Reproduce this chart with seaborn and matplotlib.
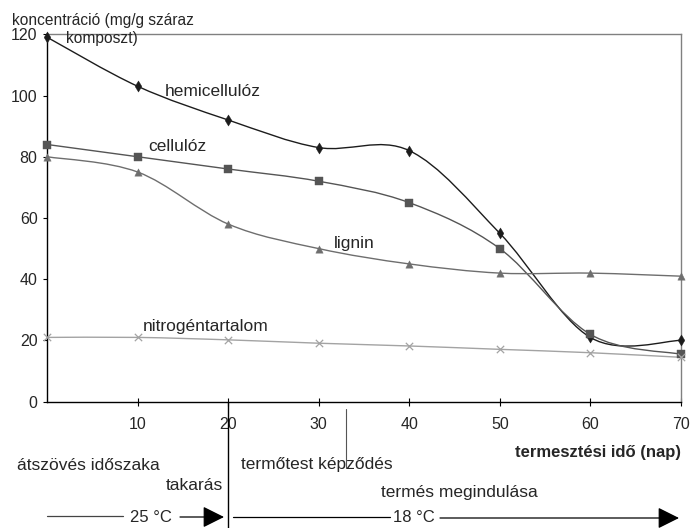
import numpy as np
import pandas as pd
import matplotlib.pyplot as plt
import seaborn as sns
from matplotlib.path import Path
from matplotlib.patches import PathPatch

# Data (mg/g száraz komposzt)
days = [0, 10, 20, 30, 40, 50, 60, 70]
hemicellulose = [119, 103, 92, 83, 82, 55, 21, 20]
cellulose = [84, 80, 76, 72, 65, 50, 22, 15.5]
lignin = [80, 75, 58, 50, 45, 42, 42, 41]
nitrogen = [21, 21, 20.2, 19.1, 18.2, 17.1, 16, 14.5]

series_names = ['hemicellulóz', 'cellulóz', 'lignin', 'nitrogéntartalom']
series_values = [hemicellulose, cellulose, lignin, nitrogen]
colors = {'hemicellulóz': '#1c1c1c', 'cellulóz': '#555555',
          'lignin': '#6e6e6e', 'nitrogéntartalom': '#a3a3a3'}
markers = {'hemicellulóz': 'd', 'cellulóz': 's',
           'lignin': '^', 'nitrogéntartalom': 'x'}

W, H = 691, 528


def fx(px):
    return px / W


def fy(py):
    return 1 - py / H


def smooth_path(x, y):
    """Excel-like smoothed line (Catmull-Rom converted to cubic Bezier)"""
    pts = np.column_stack([x, y]).astype(float)
    verts = [pts[0]]
    codes = [Path.MOVETO]
    n = len(pts)
    for i in range(n - 1):
        p0 = pts[i - 1] if i > 0 else pts[i]
        p1 = pts[i]
        p2 = pts[i + 1]
        p3 = pts[i + 2] if i + 2 < n else pts[i + 1]
        c1 = p1 + (p2 - p0) / 6
        c2 = p2 - (p3 - p1) / 6
        verts += [c1, c2, p2]
        codes += [Path.CURVE4] * 3
    return Path(verts, codes)


sns.set_style('white')
plt.rcParams['font.family'] = ['Liberation Sans', 'DejaVu Sans']

df = pd.DataFrame({
    'nap': days * len(series_names),
    'ertek': sum(series_values, []),
    'sorozat': sum([[n] * len(days) for n in series_names], []),
})

fig = plt.figure(figsize=(W / 100, H / 100), dpi=100)
ax = fig.add_axes([fx(47.3), fy(401.7), fx(680.8) - fx(47.3), fy(34.3) - fy(401.7)])

for name, vals in zip(series_names, series_values):
    ax.add_patch(PathPatch(smooth_path(days, vals), facecolor='none',
                           edgecolor=colors[name], lw=1.0, clip_on=False, zorder=2))

sizes = {'hemicellulóz': 32, 'cellulóz': 30, 'lignin': 28, 'nitrogéntartalom': 28}
for name in series_names:
    sub = df[df['sorozat'] == name]
    sns.scatterplot(data=sub, x='nap', y='ertek', ax=ax, color=colors[name],
                    marker=markers[name], s=sizes[name], edgecolor=colors[name],
                    linewidth=0.9 if name == 'nitrogéntartalom' else 0.3,
                    clip_on=False, zorder=3, legend=False)

ax.set_xlim(0, 70)
ax.set_ylim(0, 120)
ax.set_xticks([10, 20, 30, 40, 50, 60, 70])
ax.set_yticks([0, 20, 40, 60, 80, 100, 120])
ax.set_xlabel('')
ax.set_ylabel('')
ax.tick_params(axis='x', direction='inout', length=6, width=0.8, color='black',
               labelsize=11.5, pad=8)
ax.tick_params(axis='y', direction='out', length=3, width=0.8, color='black',
               labelsize=11.5, pad=4)
ax.xaxis.set_ticks_position('bottom')
ax.yaxis.set_ticks_position('left')
for side in ['left', 'bottom']:
    ax.spines[side].set_color('black')
    ax.spines[side].set_linewidth(1.0)
for side in ['top', 'right']:
    ax.spines[side].set_color('#808080')
    ax.spines[side].set_linewidth(1.0)

# series labels
ax.text(13.0, 101.3, 'hemicellulóz', fontsize=12.5, va='center', ha='left')
ax.text(11.2, 83.3, 'cellulóz', fontsize=12.5, va='center', ha='left')
ax.text(31.7, 51.8, 'lignin', fontsize=12.5, va='center', ha='left')
ax.text(10.6, 24.5, 'nitrogéntartalom', fontsize=12.5, va='center', ha='left')

# axis titles
fig.text(fx(12), fy(20), 'koncentráció (mg/g száraz', fontsize=11.2, va='center', ha='left')
fig.text(fx(102), fy(38), 'komposzt)', fontsize=11.2, va='center', ha='center')
fig.text(fx(681), fy(452), 'termesztési idő (nap)', fontsize=12, fontweight='bold',
         va='center', ha='right')

# phase texts below the axis
fig.text(fx(17), fy(465), 'átszövés időszaka', fontsize=12.5, va='center', ha='left')
fig.text(fx(223), fy(485), 'takarás', fontsize=12.5, va='center', ha='right')
fig.text(fx(241), fy(464), 'termőtest képződés', fontsize=12.5, va='center', ha='left')
fig.text(fx(381), fy(492), 'termés megindulása', fontsize=12.5, va='center', ha='left')

# vertical markers (covering at day 20, fruiting body at ~day 33)
trans = ax.get_xaxis_transform()
ax.plot([20, 20], [0, -0.35], color='black', lw=1.0, transform=trans, clip_on=False)
ax.plot([33, 33], [-0.02, -0.18], color='#555555', lw=0.8, transform=trans, clip_on=False)

# temperature arrows
fig.add_artist(plt.Line2D([fx(47), fx(123)], [fy(516), fy(516)], color='#444444', lw=0.9))
fig.text(fx(151), fy(517), '25 °C', fontsize=12, va='center', ha='center')
ax.annotate('', xy=(fx(224), fy(517)), xytext=(fx(180), fy(517)), xycoords='figure fraction',
            textcoords='figure fraction',
            arrowprops=dict(arrowstyle='-|>,head_length=1.1,head_width=0.55',
                            mutation_scale=12, color='black', lw=0.9, shrinkA=0, shrinkB=0))
fig.add_artist(plt.Line2D([fx(233), fx(390)], [fy(517), fy(517)], color='black', lw=0.9))
fig.text(fx(414), fy(517), '18 °C', fontsize=12, va='center', ha='center')
ax.annotate('', xy=(fx(679), fy(518)), xytext=(fx(440), fy(518)), xycoords='figure fraction',
            textcoords='figure fraction',
            arrowprops=dict(arrowstyle='-|>,head_length=1.1,head_width=0.55',
                            mutation_scale=12, color='black', lw=0.9, shrinkA=0, shrinkB=0))

fig.savefig('out.png', dpi=100)
